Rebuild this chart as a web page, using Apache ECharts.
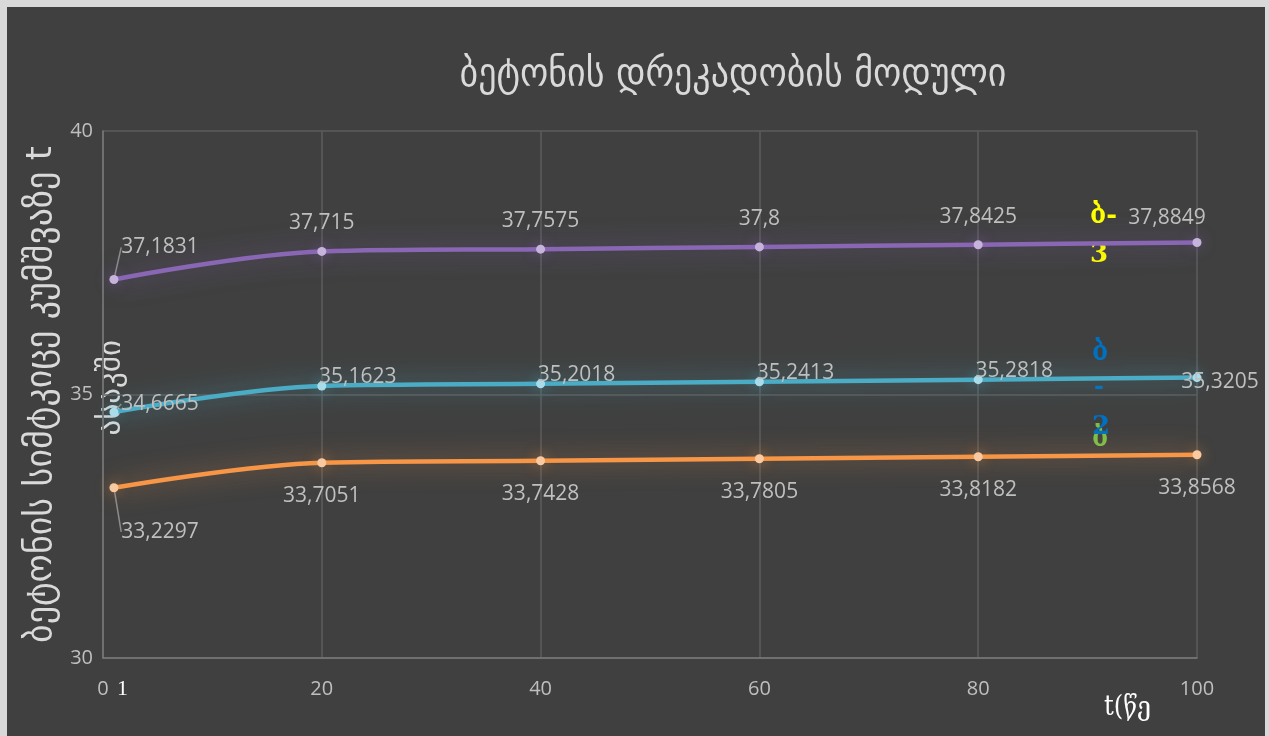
<!DOCTYPE html>
<html><head><meta charset="utf-8">
<script src="https://cdn.jsdelivr.net/npm/echarts@6/dist/echarts.min.js"></script>
<style>
html,body{margin:0;padding:0;background:#d9d9d9;width:1269px;height:736px;overflow:hidden;}
#frame{position:absolute;left:7px;top:7px;width:1258px;height:729px;background:#404040;}
#chart{position:absolute;left:-7px;top:-7px;width:1269px;height:736px;}
</style></head>
<body><div id="frame"><div id="chart"></div></div>
<script>
// ---- data ----
const years = [1, 20, 40, 60, 80, 100];
const seriesB3 = [37.1831, 37.715, 37.7575, 37.8, 37.8425, 37.8849];
const seriesB2 = [34.6665, 35.1623, 35.2018, 35.2413, 35.2818, 35.3205];
const seriesB1 = [33.2297, 33.7051, 33.7428, 33.7805, 33.8182, 33.8568];
const xTicks = [0, 20, 40, 60, 80, 100];
const yTicks = [30, 35, 40];
const titleText = 'ბეტონის დრეკადობის მოდული';
const yTitle1 = 'ბეტონის სიმტკიცე კუმშვაზე t';
const yTitle2 = 'ასაკში';
const xTitle = 't(წე';

const geo = '"DejaVu Sans",sans-serif';
const geoC = '"DejaVu Sans Condensed","DejaVu Sans",sans-serif';
const num = '"Open Sans",sans-serif';
const fmt = p => String(p.value[1]).replace('.', ',');

function pts(arr){
  return years.map((x,i)=> i===0
    ? {value:[x, arr[i]], labelLine:{show:true, lineStyle:{color:'#8c8c8c', width:1.5}}}
    : {value:[x, arr[i]]});
}

function mkSeries(name, arr, color, markerColor, glow, pos, dist, layoutFn){
  return {
    name, type:'line', smooth:0.35, data: pts(arr),
    symbol:'circle', symbolSize:9,
    itemStyle:{color:markerColor, borderWidth:0, shadowBlur:14, shadowColor:glow},
    lineStyle:{color:color, width:4.5, shadowBlur:24, shadowColor:glow},
    label:{show:true, position:pos, distance:dist, formatter:fmt, color:'#bfbfbf', fontSize:21, fontFamily:num},
    labelLine:{show:false},
    labelLayout: layoutFn,
    z:3
  };
}

const chart = echarts.init(document.getElementById('chart'), null, {renderer:'canvas'});
chart.setOption({
  backgroundColor:'transparent',
  animation:false,
  title:{text:titleText, left:728, top:51, textAlign:'center',
    textStyle:{color:'#d9d9d9', fontSize:40, fontWeight:'normal', fontFamily:geoC}},
  grid:{left:103, right:72, top:131, bottom:78, containLabel:false},
  xAxis:{type:'value', min:xTicks[0], max:xTicks[xTicks.length-1], interval:20,
    axisLine:{show:true, lineStyle:{color:'#7a7a7a', width:1.5}},
    axisTick:{show:false},
    splitLine:{show:true, lineStyle:{color:'#5c5c5c', width:1.5}},
    axisLabel:{color:'#bfbfbf', fontSize:20, fontFamily:num, margin:21}},
  yAxis:{type:'value', min:yTicks[0], max:yTicks[yTicks.length-1], interval:5,
    axisLine:{show:true, lineStyle:{color:'#7a7a7a', width:1.5}},
    axisTick:{show:false},
    splitLine:{show:true, lineStyle:{color:'#5c5c5c', width:1.5}},
    axisLabel:{color:'#bfbfbf', fontSize:20, fontFamily:num, margin:10},
    name:yTitle1, nameLocation:'middle', nameGap:20, nameRotate:90,
    nameTextStyle:{color:'#d9d9d9', fontSize:36, fontFamily:geo}},
  graphic:[
    {type:'text', left:96, top:340, rotation:Math.PI/2, originX:0, originY:0,
      style:{text:yTitle2, fill:'#d9d9d9', font:'31px '+geo}},
    {type:'text', x:117, y:678, style:{text:'1', fill:'#ffffff', font:'22px "Liberation Serif",serif'}},
    {type:'text', x:1104, y:694, style:{text:xTitle, fill:'#ffffff', font:'27px "DejaVu Serif Condensed","DejaVu Serif",serif'}},
    {type:'text', x:1090, y:203, style:{text:'ბ-', fill:'#ffff00', font:'bold 26px "DejaVu Serif",serif'}},
    {type:'text', x:1090, y:242, style:{text:'3', fill:'#ffff00', font:'bold 26px "DejaVu Serif",serif'}},
    {type:'text', x:1092, y:340, style:{text:'ბ', fill:'#0070c0', font:'bold 26px "DejaVu Serif",serif'}},
    {type:'text', x:1094, y:376, style:{text:'-', fill:'#0070c0', font:'bold 24px "DejaVu Serif",serif'}},
    {type:'text', x:1092, y:426, style:{text:'ბ', fill:'#7bbf4a', font:'bold 26px "DejaVu Serif",serif'}},
    {type:'text', x:1092, y:414, style:{text:'2', fill:'#0070c0', font:'bold 26px "DejaVu Serif",serif'}}
  ],
  series:[
    mkSeries('ბ-3', seriesB3, '#8a67b5', '#c6b3dc', 'rgba(140,100,190,0.6)', 'top', 13,
      p => p.dataIndex===0 ? {dx:46, dy:-4} : (p.dataIndex===years.length-1 ? {dx:-30, dy:4} : null)),
    mkSeries('ბ-2', seriesB2, '#4bacc6', '#a9dcea', 'rgba(75,172,198,0.75)', 'top', 13,
      p => p.dataIndex===0 ? {dx:46, dy:20} : (p.dataIndex===years.length-1 ? {dx:23, dy:32} : {dx:36, dy:19})),
    mkSeries('ბ-1', seriesB1, '#f79646', '#fbc9a0', 'rgba(247,150,70,0.6)', 'bottom', 18,
      p => p.dataIndex===0 ? {dx:46, dy:11} : null)
  ]
});
</script></body></html>
